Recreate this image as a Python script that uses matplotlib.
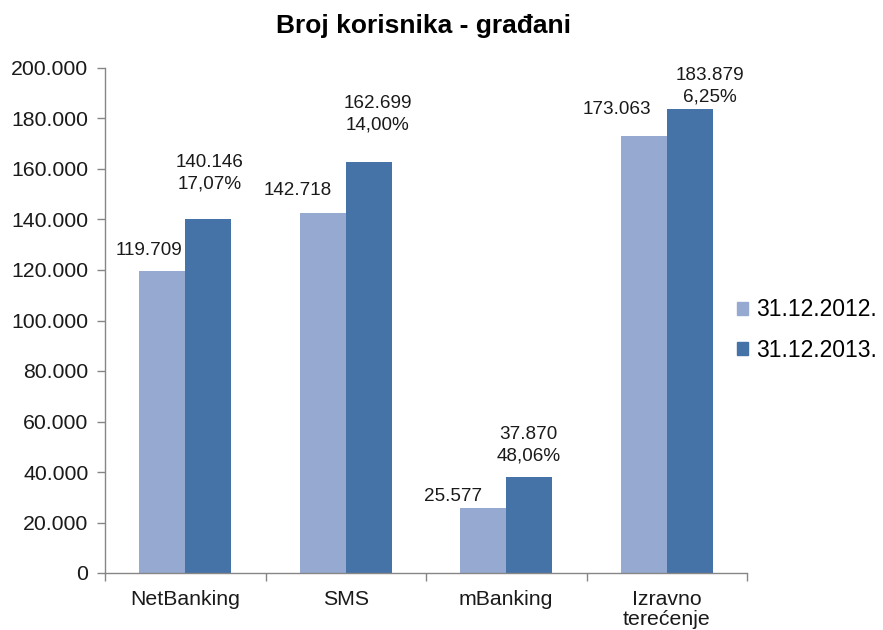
import matplotlib
matplotlib.use("Agg")
import matplotlib.pyplot as plt
from matplotlib.patches import Patch
import numpy as np

plt.rcParams['font.family'] = ['Liberation Sans', 'DejaVu Sans']

categories = ["NetBanking", "SMS", "mBanking", "Izravno\nterećenje"]
series_names = ["31.12.2012.", "31.12.2013."]
values_2012 = [119709, 142718, 25577, 173063]
values_2013 = [140146, 162699, 37870, 183879]
growth_labels = ["17,07%", "14,00%", "48,06%", "6,25%"]
title = "Broj korisnika - građani"

# label offsets in pixels (style only)
off_2012 = [(-13, 20), (-25, 22), (-30, 12), (-27, 27)]
off_2013 = [(1, 46), (9, 48), (-1, 32), (20, 22)]

c_light = "#95A9D1"
c_dark = "#4572A7"
spine_c = "#868686"
txt_c = "#1a1a1a"

def fmt(v):
    return f"{v:,}".replace(",", ".")

fig = plt.figure(figsize=(8.83, 6.3), dpi=100)
ax = fig.add_axes([105/883, 1-573/630, 642/883, 505/630])

x = np.arange(len(categories))
w = 0.2865
b1 = ax.bar(x - w/2, values_2012, w, color=c_light, label=series_names[0])
b2 = ax.bar(x + w/2, values_2013, w, color=c_dark, label=series_names[1])

ax.set_xlim(-0.5, len(categories) - 0.5)
ax.set_ylim(0, 200000)
yt = np.arange(0, 200001, 20000)
ax.set_yticks(yt)
ax.set_yticklabels([fmt(int(v)) for v in yt], fontsize=15.3, color=txt_c)

ax.set_xticks(np.arange(-0.5, len(categories), 1.0))
ax.set_xticklabels([])
ax.set_xticks(x, minor=True)
ax.set_xticklabels(categories, minor=True, fontsize=15.3, color=txt_c, linespacing=1.1)
ax.tick_params(axis='x', which='minor', length=0, pad=12)
ax.tick_params(axis='x', which='major', length=6, color=spine_c, width=1)
ax.tick_params(axis='y', length=6, color=spine_c, width=1, pad=6)

for s in ['top', 'right']:
    ax.spines[s].set_visible(False)
for s in ['left', 'bottom']:
    ax.spines[s].set_color(spine_c)
    ax.spines[s].set_linewidth(1)

for i, (xi, v) in enumerate(zip(x, values_2012)):
    ax.annotate(fmt(v), (xi - w/2, v), xytext=off_2012[i], textcoords='offset pixels',
                ha='center', va='center', fontsize=13.6, color=txt_c)
for i, (xi, v) in enumerate(zip(x, values_2013)):
    ax.annotate(fmt(v) + "\n" + growth_labels[i], (xi + w/2, v), xytext=off_2013[i],
                textcoords='offset pixels', ha='center', va='center', fontsize=13.6,
                color=txt_c, linespacing=1.35)

fig.text(424/883, 1-26/630, title, ha='center', va='center', fontsize=19,
         fontweight='bold', color='black')

handles = [Patch(color=c_light), Patch(color=c_dark)]
fig.legend(handles, series_names, loc='center left', bbox_to_anchor=(737/883, 1-330/630),
           frameon=False, fontsize=16.5, handlelength=0.5, handleheight=0.5,
           handletextpad=0.35, labelspacing=0.75, borderaxespad=0, borderpad=0)

fig.savefig("out.png", dpi=100)
